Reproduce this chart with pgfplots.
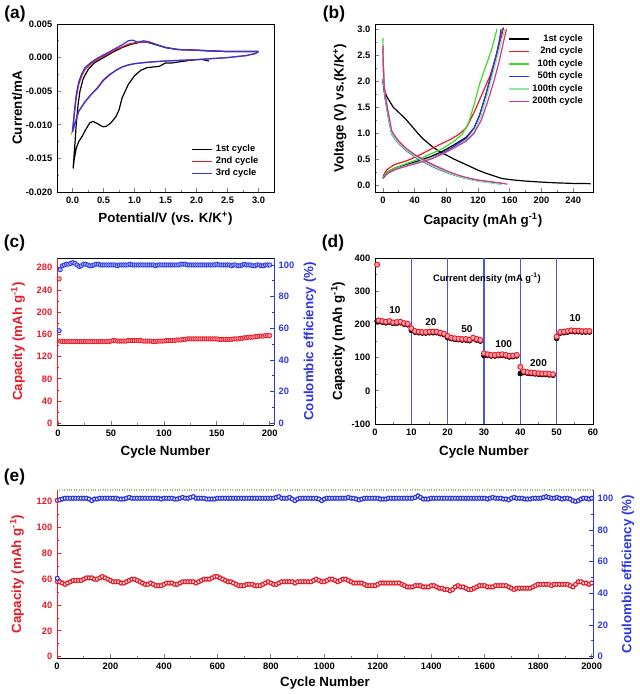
\documentclass[border=0pt]{standalone}
\usepackage{fontspec}
\setmainfont{Liberation Sans}
\usepackage{pgfplots}
\pgfplotsset{compat=1.18}
\definecolor{cred}{RGB}{232,28,40}
\definecolor{cblue}{RGB}{45,55,230}
\definecolor{cgreen}{RGB}{60,220,40}
\definecolor{clgreen}{RGB}{140,235,160}
\definecolor{cmag}{RGB}{205,55,150}
\definecolor{cpink}{RGB}{255,165,175}
\definecolor{clblue}{RGB}{170,180,255}
\definecolor{ctop}{RGB}{150,190,120}
\pgfplotsset{
  base/.style={
    scale only axis, anchor=south west,
    /pgf/number format/assume math mode=true,
    /pgf/number format/1000 sep={},
    tick label style={font=\fontsize{7}{8}\selectfont\bfseries},
    label style={font=\fontsize{10}{12}\selectfont\bfseries},
    tick align=inside,
    major tick length=3pt, minor tick length=1.8pt,
    minor tick num=1,
    axis line style={line width=0.7pt,-},
    every tick/.append style={line width=0.6pt},
    legend style={draw=none, fill=none, font=\fontsize{7}{8}\selectfont\bfseries},
    legend image code/.code={\draw[#1, line width=1.3pt] (0pt,0pt) -- (15pt,0pt);},
  },
}
\begin{document}
\begin{tikzpicture}
\useasboundingbox (0,0) rectangle (480pt,520.5pt);
% ---------------- (a)
\begin{axis}[base, at={(42.75pt,376.5pt)}, width=162.75pt, height=126pt,
  xtick pos=left, ytick pos=left,
  xmin=-0.25, xmax=3.25, ymin=-0.02, ymax=0.005,
  xtick={0,0.5,1,1.5,2,2.5,3}, ytick={-0.02,-0.015,-0.01,-0.005,0,0.005},
  scaled y ticks=false,
  yticklabel style={/pgf/number format/.cd, fixed, fixed zerofill, precision=3},
  xticklabel style={/pgf/number format/.cd, fixed, fixed zerofill, precision=1},
  xlabel={Potential/V (vs. K/K\textsuperscript{+})}, ylabel={Current/mA},
  xlabel style={at={(axis description cs:0.5,-0.161)}, anchor=center},
  ylabel style={at={(axis description cs:-0.184,0.5)}, anchor=center},
  legend style={at={(0.96,0.05)}, anchor=south east, cells={anchor=west}, row sep=-1.5pt},
]
\addplot[black, line width=0.9pt] coordinates {(2.20,-0.0005) (2.10,-0.0003) (2.00,-0.0003) (1.90,-0.0004) (1.75,-0.0006) (1.60,-0.0008) (1.50,-0.0008) (1.40,-0.0013) (1.30,-0.0014) (1.20,-0.0015) (1.10,-0.0019) (1.00,-0.0027) (0.90,-0.0040) (0.80,-0.0060) (0.75,-0.0078) (0.70,-0.0088) (0.62,-0.0097) (0.55,-0.0102) (0.50,-0.0103) (0.45,-0.0101) (0.40,-0.0098) (0.33,-0.0095) (0.28,-0.0097) (0.22,-0.0106) (0.15,-0.0118) (0.10,-0.0125) (0.06,-0.0135) (0.03,-0.0150) (0.01,-0.0165) (0.03,-0.0140) (0.06,-0.0100) (0.09,-0.0070) (0.12,-0.0050) (0.17,-0.0032) (0.25,-0.0018) (0.35,-0.0008) (0.50,0.0000) (0.65,0.0008) (0.80,0.0015) (0.95,0.0020) (1.10,0.0023) (1.20,0.0023) (1.35,0.0019) (1.50,0.0015) (1.70,0.0012) (2.00,0.0011) (2.20,0.0010) (2.50,0.0009) (3.00,0.0009)};
\addlegendentry{1st cycle}
\addplot[cred, line width=0.9pt] coordinates {(3.00,0.0009) (2.95,0.0006) (2.80,0.0003) (2.50,0.0000) (2.00,-0.0003) (1.50,-0.0005) (1.20,-0.0007) (1.00,-0.0009) (0.90,-0.0011) (0.80,-0.0014) (0.70,-0.0019) (0.60,-0.0026) (0.50,-0.0034) (0.45,-0.0040) (0.40,-0.0046) (0.30,-0.0055) (0.20,-0.0066) (0.10,-0.0080) (0.05,-0.0095) (0.00,-0.0108) (0.03,-0.0085) (0.06,-0.0060) (0.10,-0.0040) (0.15,-0.0027) (0.20,-0.0018) (0.30,-0.0009) (0.40,-0.0003) (0.50,0.0002) (0.60,0.0007) (0.70,0.0012) (0.80,0.0016) (0.90,0.0020) (1.00,0.0022) (1.10,0.0023) (1.20,0.0023) (1.30,0.0021) (1.40,0.0018) (1.50,0.0015) (1.70,0.0012) (2.00,0.0011) (2.50,0.0009) (3.00,0.0009)};
\addlegendentry{2nd cycle}
\addplot[cblue, line width=0.9pt] coordinates {(3.00,0.0009) (2.95,0.0006) (2.80,0.0003) (2.50,0.0000) (2.00,-0.0003) (1.50,-0.0005) (1.20,-0.0007) (1.00,-0.0009) (0.90,-0.0011) (0.80,-0.0014) (0.70,-0.0019) (0.60,-0.0025) (0.50,-0.0033) (0.45,-0.0039) (0.40,-0.0045) (0.30,-0.0055) (0.20,-0.0066) (0.10,-0.0080) (0.05,-0.0095) (0.00,-0.0111) (0.03,-0.0080) (0.06,-0.0055) (0.10,-0.0036) (0.15,-0.0024) (0.20,-0.0015) (0.30,-0.0007) (0.40,-0.0001) (0.50,0.0004) (0.60,0.0009) (0.70,0.0014) (0.80,0.0019) (0.90,0.0025) (0.97,0.0026) (1.05,0.0023) (1.15,0.0025) (1.25,0.0023) (1.40,0.0018) (1.50,0.0015) (1.70,0.0012) (2.00,0.0011) (2.50,0.0009) (3.00,0.0009)};
\addlegendentry{3rd cycle}
\end{axis}
% ---------------- (b)
\begin{axis}[base, at={(281.25pt,376.5pt)}, width=163.5pt, height=126pt,
  xtick pos=left, ytick pos=left,
  xmin=-10, xmax=265, ymin=-0.13, ymax=3.1,
  xtick={0,40,80,120,160,200,240}, ytick={0,0.5,1,1.5,2,2.5,3},
  yticklabel style={/pgf/number format/.cd, fixed, fixed zerofill, precision=1},
  xlabel={Capacity (mAh g\textsuperscript{-1})}, ylabel={Voltage (V) vs.(K/K\textsuperscript{+})},
  xlabel style={at={(axis description cs:0.495,-0.167)}, anchor=center},
  ylabel style={at={(axis description cs:-0.161,0.5)}, anchor=center},
  legend style={at={(0.985,0.97)}, anchor=north east, cells={anchor=east}, row sep=-1.2pt},
  every axis plot/.append style={line width=0.9pt},
]
\addplot[black] coordinates {(0,0.15) (5,0.25) (15,0.33) (30,0.4) (45,0.47) (60,0.55) (75,0.65) (90,0.78) (105,0.92) (115,1.1) (122,1.35) (130,1.75) (137,2.15) (143,2.5) (148,2.8) (152,3.03)};
\addlegendentry{1st cycle}
\addplot[black, forget plot] coordinates {(0,2.0) (2,1.82) (5,1.7) (9,1.6) (13,1.5) (20,1.4) (30,1.25) (44,1.0) (50,0.9) (60,0.77) (70,0.66) (80,0.58) (90,0.5) (100,0.43) (110,0.36) (120,0.29) (130,0.23) (140,0.18) (150,0.13) (155,0.12) (165,0.1) (180,0.08) (200,0.06) (220,0.045) (240,0.035) (262,0.03)};
\addplot[cred] coordinates {(0,0.17) (5,0.3) (15,0.4) (30,0.47) (42,0.55) (55,0.65) (70,0.77) (85,0.88) (95,0.97) (105,1.1) (115,1.4) (125,1.75) (135,2.1) (143,2.5) (148,2.8) (151,3.0)};
\addlegendentry{2nd cycle}
\addplot[cred, forget plot] coordinates {(0,2.7) (0.5,2.3) (1.5,1.9) (3,1.7) (5,1.5) (8,1.25) (11,1.0) (15,0.92) (20,0.82) (30,0.68) (40,0.57) (50,0.48) (60,0.4) (70,0.33) (80,0.27) (90,0.21) (100,0.16) (110,0.12) (120,0.09) (130,0.07) (142,0.05)};
\addplot[cgreen] coordinates {(0,0.15) (5,0.25) (15,0.33) (30,0.42) (45,0.5) (60,0.6) (75,0.7) (90,0.85) (100,0.98) (108,1.2) (115,1.55) (122,1.95) (130,2.3) (137,2.6) (143,2.95) (144,3.0)};
\addlegendentry{10th cycle}
\addplot[cgreen, forget plot] coordinates {(0,2.83) (0.5,2.3) (1.5,1.9) (3,1.65) (5,1.45) (8,1.2) (11,0.98) (15,0.9) (20,0.8) (30,0.66) (40,0.55) (50,0.46) (60,0.38) (70,0.31) (80,0.25) (90,0.19) (100,0.15) (110,0.11) (120,0.08) (130,0.06) (140,0.04) (148,0.02)};
\addplot[cblue] coordinates {(0,0.13) (5,0.22) (15,0.3) (30,0.38) (45,0.44) (60,0.52) (75,0.62) (90,0.75) (105,0.9) (115,1.1) (122,1.35) (130,1.75) (137,2.15) (143,2.5) (147,2.8) (149,3.0)};
\addlegendentry{50th cycle}
\addplot[cblue, forget plot] coordinates {(0,2.05) (1,1.85) (3,1.65) (5,1.48) (8,1.22) (11,1.0) (15,0.9) (20,0.8) (30,0.66) (40,0.55) (50,0.46) (60,0.38) (70,0.31) (80,0.25) (90,0.2) (100,0.15) (110,0.12) (120,0.09) (130,0.07) (140,0.05) (150,0.03)};
\addplot[clgreen] coordinates {(0,0.13) (5,0.22) (15,0.3) (30,0.38) (45,0.44) (60,0.52) (75,0.6) (90,0.72) (105,0.86) (115,1.03) (123,1.3) (131,1.7) (138,2.1) (145,2.5) (150,2.8) (154,3.0)};
\addlegendentry{100th cycle}
\addplot[clgreen, forget plot] coordinates {(0,2.78) (0.5,2.3) (1.5,1.9) (3,1.68) (5,1.5) (8,1.24) (11,1.0) (15,0.91) (20,0.81) (30,0.67) (40,0.56) (50,0.47) (60,0.39) (70,0.32) (80,0.26) (90,0.2) (100,0.15) (110,0.11) (120,0.08) (130,0.06) (140,0.04) (150,0.02)};
\addplot[cmag] coordinates {(0,0.13) (5,0.22) (15,0.3) (30,0.37) (45,0.43) (60,0.5) (75,0.6) (90,0.72) (105,0.85) (115,1.0) (124,1.25) (132,1.6) (140,2.0) (147,2.4) (152,2.75) (156,3.0)};
\addlegendentry{200th cycle}
\addplot[cmag, forget plot] coordinates {(0,2.68) (0.5,2.3) (1.5,1.95) (3,1.72) (5,1.55) (8,1.3) (11,1.05) (15,0.95) (20,0.85) (30,0.7) (40,0.59) (50,0.5) (60,0.42) (70,0.35) (80,0.28) (90,0.22) (100,0.17) (110,0.13) (120,0.1) (130,0.08) (140,0.06) (150,0.04) (157,0.02)};
\end{axis}
% ---------------- (c)
\begin{axis}[base, at={(42.75pt,201.75pt)}, width=162.75pt, height=125.25pt,
  axis x line*=box, axis y line*=left, xtick pos=left,
  xmin=-1, xmax=204, ymin=-3, ymax=297.5,
  xtick={0,50,100,150,200}, ytick={0,40,80,120,160,200,240,280},
  y axis line style={cred}, every y tick/.append style={cred}, yticklabel style={text=cred},
  xlabel={Cycle Number}, ylabel={Capacity (mAh g\textsuperscript{-1})},
  ylabel style={text=cred, at={(axis description cs:-0.18,0.5)}, anchor=center},
  xlabel style={at={(axis description cs:0.5,-0.162)}, anchor=center},
]
\addplot[only marks, mark=*, mark size=1.6pt, mark options={draw=cred, fill=cpink, line width=0.6pt}] coordinates {(1,260) (2,148) (4,147) (6,147) (8,147) (10,147) (12,147) (14,147) (16,147) (18,147) (20,147) (22,147) (24,147) (26,147) (28,147) (30,147) (32,147) (34,147) (36,147) (38,147) (40,147) (42,147) (44,147) (46,147) (48,147) (50,148) (52,149) (54,149) (56,148) (58,148) (60,148) (62,148) (64,148) (66,149) (68,149) (70,149) (72,149) (74,149) (76,149) (78,149) (80,148) (82,148) (84,148) (86,148) (88,148) (90,147) (92,147) (94,148) (96,148) (98,148) (100,148) (102,149) (104,149) (106,149) (108,149) (110,149) (112,150) (114,150) (116,150) (118,151) (120,151) (122,152) (124,152) (126,152) (128,152) (130,152) (132,152) (134,152) (136,152) (138,152) (140,152) (142,152) (144,152) (146,152) (148,152) (150,152) (152,151) (154,151) (156,151) (158,151) (160,151) (162,151) (164,151) (166,152) (168,152) (170,152) (172,153) (174,153) (176,154) (178,154) (180,155) (182,155) (184,155) (186,156) (188,156) (190,157) (192,157) (194,157) (196,158) (198,158) (200,158)};
\end{axis}
\begin{axis}[base, at={(42.75pt,201.75pt)}, width=162.75pt, height=125.25pt,
  axis x line=none, axis y line*=right,
  xmin=-1, xmax=204, ymin=-1.07, ymax=104.4,
  ytick={0,20,40,60,80,100},
  y axis line style={cblue}, every y tick/.append style={cblue}, yticklabel style={text=cblue},
  ylabel={Coulombic efficiency (\%)},
  ylabel style={text=cblue, at={(axis description cs:1.166,0.5)}, anchor=center},
]
\addplot[only marks, mark=*, mark size=1.6pt, mark options={draw=cblue, fill=clblue, line width=0.6pt}] coordinates {(1,58.5) (2,97) (4,99.5) (6,100) (8,100.5) (10,100.5) (12,101) (14,101.5) (16,101) (18,100) (20,99) (22,99.5) (24,100.5) (26,100.5) (28,100) (30,99.5) (32,99.5) (34,100) (36,100.5) (38,100.5) (40,100) (42,100) (44,100) (46,100) (48,100) (50,100) (52,100) (54,100) (56,99.5) (58,100) (60,100) (62,100) (64,100) (66,100) (68,100.5) (70,100) (72,100) (74,100) (76,100) (78,100) (80,100) (82,100) (84,100) (86,100) (88,100) (90,100) (92,99.5) (94,100) (96,100) (98,100) (100,100) (102,100) (104,100) (106,100) (108,100) (110,100) (112,100) (114,100) (116,100.5) (118,100.5) (120,100.5) (122,100) (124,100) (126,100) (128,100) (130,100) (132,100) (134,100) (136,100) (138,100) (140,100) (142,100) (144,100) (146,100) (148,100) (150,100.5) (152,100) (154,100) (156,100) (158,100) (160,100) (162,100) (164,99.5) (166,100) (168,100) (170,99.5) (172,99.5) (174,100) (176,100.5) (178,100) (180,100) (182,100) (184,99.5) (186,99.5) (188,100) (190,100) (192,99.5) (194,99.5) (196,100) (198,100) (200,100)};
\end{axis}
% ---------------- (d)
\begin{axis}[base, at={(281.25pt,202.5pt)}, width=163.5pt, height=124.5pt,
  xtick pos=left, ytick pos=left,
  xmin=0, xmax=60, ymin=-100, ymax=400,
  xtick={0,10,20,30,40,50,60}, ytick={-100,0,100,200,300,400},
  xlabel={Cycle Number}, ylabel={Capacity (mAh g\textsuperscript{-1})},
  xlabel style={at={(axis description cs:0.5,-0.169)}, anchor=center},
  ylabel style={at={(axis description cs:-0.17,0.5)}, anchor=center},
]
\addplot[cblue!85!white, line width=0.9pt] coordinates {(10,-100) (10,400)};
\addplot[cblue!85!white, line width=0.9pt] coordinates {(20,-100) (20,400)};
\addplot[cblue!85!white, line width=0.9pt] coordinates {(30,-100) (30,400)};
\addplot[cblue!85!white, line width=0.9pt] coordinates {(40,-100) (40,400)};
\addplot[cblue!85!white, line width=0.9pt] coordinates {(50,-100) (50,400)};
\addplot[only marks, mark=*, mark size=1.9pt, mark options={draw=black, fill=black}] coordinates {(0.6,210) (1,209) (2,207) (3,205) (4,207) (5,203) (6,204) (7,205) (8,201) (9,199) (10,182) (11,177) (12,175) (13,174) (14,174) (15,175) (16,175) (17,175) (18,172) (19,169) (20,160) (21,157) (22,155) (23,154) (24,153) (25,153) (26,151) (27,157) (28,153) (29,150) (30,106) (31,107) (32,105) (33,105) (34,106) (35,107) (36,105) (37,102) (38,103) (39,105) (40,52) (41,55) (42,53) (43,52) (44,51) (45,50) (46,49) (47,49) (48,48) (49,47) (50,158) (51,174) (52,175) (53,177) (54,179) (55,178) (56,178) (57,177) (58,177) (59,177)};
\addplot[only marks, mark=*, mark size=1.9pt, mark options={draw=cred, fill=cpink, line width=0.7pt}] coordinates {(0.6,380) (1,212) (2,210) (3,208) (4,210) (5,206) (6,207) (7,208) (8,204) (9,202) (10,188) (11,180) (12,178) (13,177) (14,177) (15,178) (16,178) (17,178) (18,175) (19,172) (20,165) (21,160) (22,158) (23,157) (24,156) (25,156) (26,154) (27,160) (28,156) (29,153) (30,113) (31,110) (32,108) (33,108) (34,109) (35,110) (36,108) (37,105) (38,106) (39,108) (40,72) (41,58) (42,56) (43,55) (44,54) (45,53) (46,52) (47,52) (48,51) (49,50) (50,163) (51,177) (52,178) (53,180) (54,182) (55,181) (56,181) (57,180) (58,180) (59,180)};
\node[font=\fontsize{7}{8}\selectfont\bfseries] at (axis cs:30.8,338) {Current density (mA g\textsuperscript{-1})};
\node[font=\fontsize{7.5}{9}\selectfont\bfseries] at (axis cs:5.5,243) {10};
\node[font=\fontsize{7.5}{9}\selectfont\bfseries] at (axis cs:15.4,208) {20};
\node[font=\fontsize{7.5}{9}\selectfont\bfseries] at (axis cs:25.3,186) {50};
\node[font=\fontsize{7.5}{9}\selectfont\bfseries] at (axis cs:35.4,140) {100};
\node[font=\fontsize{7.5}{9}\selectfont\bfseries] at (axis cs:45,83) {200};
\node[font=\fontsize{7.5}{9}\selectfont\bfseries] at (axis cs:55.1,218) {10};
\end{axis}
% ---------------- (e)
\begin{axis}[base, at={(42.75pt,27pt)}, width=402pt, height=126pt,
  axis x line*=bottom, axis y line*=left, xtick pos=left,
  xmin=0, xmax=2005, ymin=-1, ymax=129,
  xtick={0,200,400,600,800,1000,1200,1400,1600,1800,2000}, ytick={0,20,40,60,80,100,120},
  y axis line style={cred}, every y tick/.append style={cred}, yticklabel style={text=cred},
  xlabel={Cycle Number}, ylabel={Capacity (mAh g\textsuperscript{-1})},
  ylabel style={text=cred, at={(axis description cs:-0.0746,0.5)}, anchor=center},
  xlabel style={at={(axis description cs:0.5,-0.149)}, anchor=center},
  clip=false,
]
\addplot[ctop, densely dotted, line width=0.8pt] coordinates {(0,129) (2005,129)};
\addplot[only marks, mark=*, mark size=1.5pt, mark options={draw=cred, fill=white, line width=0.9pt}] coordinates {(1,121) (2,58) (10,58) (20,57) (30,56) (40,57) (50,58) (60,59) (70,59) (80,59) (90,59) (100,60) (110,61) (120,61) (130,61) (140,60) (150,60) (160,61) (170,62) (180,61) (190,60) (200,59) (210,58) (220,58) (230,58) (240,57) (250,57) (260,58) (270,59) (280,60) (290,60) (300,59) (310,58) (320,57) (330,56) (340,56) (350,57) (360,56) (370,55) (380,55) (390,55) (400,56) (410,57) (420,57) (430,57) (440,56) (450,56) (460,57) (470,58) (480,58) (490,58) (500,58) (510,58) (520,57) (530,58) (540,59) (550,60) (560,60) (570,60) (580,61) (590,62) (600,62) (610,61) (620,60) (630,59) (640,58) (650,58) (660,57) (670,56) (680,55) (690,55) (700,55) (710,56) (720,56) (730,56) (740,55) (750,55) (760,55) (770,56) (780,57) (790,58) (800,57) (810,56) (820,56) (830,57) (840,58) (850,58) (860,58) (870,58) (880,58) (890,57) (900,58) (910,58) (920,58) (930,58) (940,58) (950,58) (960,59) (970,60) (980,59) (990,58) (1000,58) (1010,59) (1020,60) (1030,60) (1040,59) (1050,58) (1060,59) (1070,60) (1080,60) (1090,59) (1100,58) (1110,57) (1120,57) (1130,57) (1140,57) (1150,56) (1160,55) (1170,55) (1180,55) (1190,55) (1200,56) (1210,57) (1220,57) (1230,57) (1240,57) (1250,57) (1260,57) (1270,57) (1280,57) (1290,56) (1300,55) (1310,54) (1320,54) (1330,54) (1340,55) (1350,55) (1360,55) (1370,54) (1380,54) (1390,54) (1400,55) (1410,55) (1420,54) (1430,53) (1440,53) (1450,52) (1460,52) (1470,51) (1480,52) (1490,54) (1500,55) (1510,54) (1520,54) (1530,53) (1540,52) (1550,52) (1560,53) (1570,54) (1580,55) (1590,55) (1600,55) (1610,54) (1620,54) (1630,54) (1640,55) (1650,55) (1660,55) (1670,55) (1680,55) (1690,54) (1700,53) (1710,52) (1720,53) (1730,53) (1740,53) (1750,53) (1760,53) (1770,53) (1780,54) (1790,55) (1800,56) (1810,56) (1820,56) (1830,56) (1840,56) (1850,55) (1860,56) (1870,56) (1880,56) (1890,56) (1900,56) (1910,56) (1920,55) (1930,54) (1940,56) (1950,58) (1960,58) (1970,57) (1980,57) (1990,56) (2000,57)};
\end{axis}
\begin{axis}[base, at={(42.75pt,27pt)}, width=402pt, height=126pt,
  axis x line=none, axis y line*=right,
  xmin=0, xmax=2005, ymin=-0.8, ymax=105.2,
  ytick={0,20,40,60,80,100},
  y axis line style={cblue}, every y tick/.append style={cblue}, yticklabel style={text=cblue},
  ylabel={Coulombic efficiency (\%)},
  ylabel style={text=cblue, at={(axis description cs:1.0653,0.5)}, anchor=center},
]
\addplot[only marks, mark=*, mark size=1.5pt, mark options={draw=cblue, fill=white, line width=0.9pt}] coordinates {(1,49.5) (10,99) (20,99.5) (30,100) (40,100) (50,100) (60,100) (70,100) (80,100) (90,100) (100,100) (110,100) (120,99.5) (130,98.5) (140,99.5) (150,99.5) (160,100) (170,100) (180,100) (190,100) (200,100) (210,100) (220,100) (230,99.5) (240,99.5) (250,99.5) (260,100) (270,100.5) (280,100) (290,100) (300,100) (310,100) (320,100) (330,100) (340,100) (350,100) (360,100) (370,100) (380,100) (390,99.5) (400,100) (410,100) (420,100) (430,100) (440,99.5) (450,99.5) (460,100) (470,100.5) (480,100) (490,100) (500,100.5) (510,101) (520,100) (530,100) (540,100) (550,100) (560,99.5) (570,99.5) (580,99.5) (590,99.5) (600,100) (610,100) (620,100) (630,100) (640,100) (650,100) (660,100) (670,100) (680,100) (690,100) (700,100) (710,100) (720,100) (730,100) (740,100) (750,100) (760,100) (770,100) (780,100) (790,100) (800,100) (810,100) (820,100.5) (830,101) (840,100) (850,100) (860,100) (870,100.5) (880,99.5) (890,98.5) (900,99.5) (910,100) (920,100) (930,100) (940,100) (950,100) (960,100) (970,100) (980,99.5) (990,98.5) (1000,99.5) (1010,100) (1020,100) (1030,100) (1040,100) (1050,100) (1060,100) (1070,100) (1080,100) (1090,100.5) (1100,100) (1110,100) (1120,99.5) (1130,99) (1140,99.5) (1150,100) (1160,100) (1170,100) (1180,100) (1190,100) (1200,100) (1210,99.5) (1220,99.5) (1230,99.5) (1240,100) (1250,100) (1260,100) (1270,100) (1280,100) (1290,100) (1300,100) (1310,100) (1320,100) (1330,100) (1340,100.5) (1350,101.5) (1360,100.5) (1370,99.5) (1380,99.5) (1390,99.5) (1400,100) (1410,100) (1420,100) (1430,100) (1440,100) (1450,100) (1460,100) (1470,100) (1480,100) (1490,100) (1500,100) (1510,100) (1520,100) (1530,100) (1540,100) (1550,100) (1560,100) (1570,100) (1580,100) (1590,100) (1600,100) (1610,99.5) (1620,100) (1630,100.5) (1640,100) (1650,100) (1660,100) (1670,99.5) (1680,99.5) (1690,99) (1700,100) (1710,100.5) (1720,100) (1730,100) (1740,100) (1750,99.5) (1760,99.5) (1770,99.5) (1780,100) (1790,100) (1800,100) (1810,100) (1820,100.5) (1830,101) (1840,100.5) (1850,100) (1860,100) (1870,100.5) (1880,100) (1890,99.5) (1900,100) (1910,100) (1920,99.5) (1930,98.5) (1940,98) (1950,98.5) (1960,99.5) (1970,100) (1980,100) (1990,99.5) (2000,100)};
\end{axis}
\node[font=\fontsize{13}{15}\selectfont\bfseries] at (11.25pt,510pt) {(a)};
\node[font=\fontsize{13}{15}\selectfont\bfseries] at (250.5pt,510pt) {(b)};
\node[font=\fontsize{13}{15}\selectfont\bfseries] at (10.9pt,338.25pt) {(c)};
\node[font=\fontsize{13}{15}\selectfont\bfseries] at (249.75pt,338.25pt) {(d)};
\node[font=\fontsize{13}{15}\selectfont\bfseries] at (10.9pt,162.75pt) {(e)};
\end{tikzpicture}
\end{document}
